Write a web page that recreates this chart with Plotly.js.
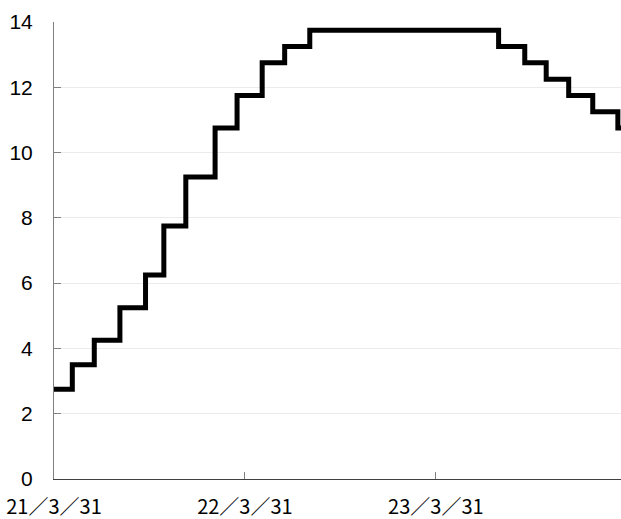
<!DOCTYPE html>
<html>
<head>
<meta charset="utf-8">
<script src="https://cdn.plot.ly/plotly-3.0.1.min.js"></script>
<style>html,body{margin:0;padding:0;background:#fff;}#chart{width:621px;height:519px;}</style>
</head>
<body>
<div id="chart"></div>
<script>
// Step start dates and levels
const stepDates = ['2021-03-31','2021-05-05','2021-06-16','2021-08-04','2021-09-22','2021-10-27','2021-12-08','2022-02-02','2022-03-16','2022-05-03','2022-06-15','2022-08-02','2023-07-29','2023-09-17','2023-10-28','2023-12-10','2024-01-25','2024-03-13','2024-03-19'];
const stepValues = [2.75,3.5,4.25,5.25,6.25,7.75,9.25,10.75,11.75,12.75,13.25,13.75,13.25,12.75,12.25,11.75,11.25,10.75,10.75];
const xTickVals = ['2021-03-31','2022-03-31','2023-03-31'];
const xTickText = ['21／3／31','22／3／31','23／3／31'];
const yTickVals = [0,2,4,6,8,10,12,14];

const trace = {
  x: stepDates,
  y: stepValues,
  type: 'scatter',
  mode: 'lines',
  line: {shape: 'hv', color: '#000000', width: 5},
  hoverinfo: 'skip'
};

const layout = {
  width: 621,
  height: 519,
  margin: {l: 54, r: 0, t: 22, b: 40, pad: 0},
  paper_bgcolor: '#ffffff',
  plot_bgcolor: '#ffffff',
  showlegend: false,
  xaxis: {
    type: 'date',
    range: ['2021-03-31', '2024-03-19'],
    tickmode: 'array',
    tickvals: xTickVals,
    ticktext: xTickText,
    showgrid: false,
    zeroline: false,
    showline: true,
    linecolor: '#404040',
    linewidth: 1,
    ticks: 'inside',
    ticklen: 7,
    tickcolor: '#808080',
    tickwidth: 1,
    ticklabelstandoff: 10,
    tickfont: {family: 'Noto Sans CJK JP', size: 20, color: '#000000'},
    fixedrange: true
  },
  yaxis: {
    range: [0, 14],
    tickmode: 'array',
    tickvals: yTickVals,
    showgrid: true,
    gridcolor: '#ebebeb',
    gridwidth: 1,
    zeroline: false,
    showline: true,
    linecolor: '#808080',
    linewidth: 1,
    ticks: 'inside',
    ticklen: 7,
    tickcolor: '#808080',
    tickwidth: 1,
    ticklabelstandoff: 16,
    tickfont: {family: 'Liberation Sans, Arial, sans-serif', size: 21, color: '#000000'},
    fixedrange: true
  }
};

Plotly.newPlot('chart', [trace], layout, {displayModeBar: false, staticPlot: true});
</script>
</body>
</html>
